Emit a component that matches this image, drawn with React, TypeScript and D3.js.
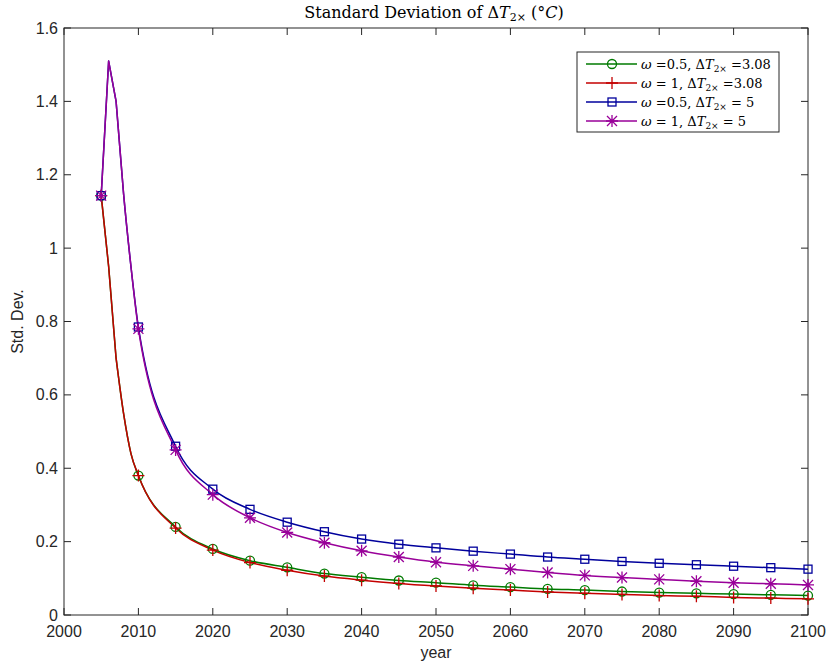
import React, { useEffect, useRef } from "react";
import * as d3 from "d3";

// years of the lines (yearly at the start, then every 5 years)
const lineYears = [2005, 2006, 2007, 2008, 2009, 2010, 2015, 2020, 2025, 2030, 2035, 2040, 2045, 2050, 2055, 2060, 2065, 2070, 2075, 2080, 2085, 2090, 2095, 2100];

const green = [1.143, 0.95, 0.70, 0.55, 0.44, 0.38, 0.24, 0.18, 0.148, 0.13, 0.113, 0.103, 0.094, 0.088, 0.081, 0.076, 0.071, 0.068, 0.064, 0.061, 0.059, 0.057, 0.055, 0.053];
const red = [1.143, 0.95, 0.70, 0.55, 0.44, 0.38, 0.237, 0.177, 0.143, 0.122, 0.106, 0.095, 0.086, 0.079, 0.073, 0.068, 0.063, 0.059, 0.056, 0.053, 0.051, 0.048, 0.046, 0.044];
const blue = [1.143, 1.51, 1.40, 1.15, 0.95, 0.785, 0.46, 0.343, 0.288, 0.253, 0.227, 0.207, 0.193, 0.183, 0.174, 0.166, 0.158, 0.152, 0.146, 0.141, 0.137, 0.133, 0.129, 0.125];
const purple = [1.143, 1.51, 1.40, 1.15, 0.95, 0.78, 0.45, 0.328, 0.265, 0.225, 0.197, 0.175, 0.158, 0.144, 0.134, 0.125, 0.116, 0.108, 0.102, 0.097, 0.092, 0.088, 0.085, 0.082];

const xTicks = [2000, 2010, 2020, 2030, 2040, 2050, 2060, 2070, 2080, 2090, 2100];
const yTicks = [0, 0.2, 0.4, 0.6, 0.8, 1, 1.2, 1.4, 1.6];

const seriesNames = ["green", "red", "blue", "purple"];
const seriesValues = [green, red, blue, purple];
const seriesColors = ["#007a00", "#c40000", "#00009c", "#990099"];
const seriesMarkers = ["circle", "plus", "square", "star"];
const legendOmega = ["=0.5,", "= 1,", "=0.5,", "= 1,"];
const legendDT = ["=3.08", "=3.08", "= 5", "= 5"];

function drawMarker(g: any, type: string, x: number, y: number, color: string) {
  const s = 5;
  if (type === "circle") {
    g.append("circle").attr("cx", x).attr("cy", y).attr("r", 4.5)
      .attr("fill", "none").attr("stroke", color).attr("stroke-width", 1.3);
  } else if (type === "square") {
    g.append("rect").attr("x", x - 4).attr("y", y - 4).attr("width", 8).attr("height", 8)
      .attr("fill", "none").attr("stroke", color).attr("stroke-width", 1.3);
  } else {
    const p = d3.path();
    p.moveTo(x - s - 1, y); p.lineTo(x + s + 1, y);
    p.moveTo(x, y - s - 1); p.lineTo(x, y + s + 1);
    if (type === "star") {
      p.moveTo(x - s, y - s); p.lineTo(x + s, y + s);
      p.moveTo(x - s, y + s); p.lineTo(x + s, y - s);
    }
    g.append("path").attr("d", p.toString()).attr("stroke", color).attr("stroke-width", 1.3).attr("fill", "none");
  }
}

export default function App() {
  const ref = useRef<SVGSVGElement>(null);

  useEffect(() => {
    const svg = d3.select(ref.current);
    svg.selectAll("*").remove();

    const left = 64, right = 808, top = 28, bottom = 615;
    const x = d3.scaleLinear().domain([2000, 2100]).range([left, right]);
    const y = d3.scaleLinear().domain([0, 1.6]).range([bottom, top]);
    const axisColor = "#262626";
    const tickFont = "'Liberation Sans', Arial, sans-serif";

    const axes = svg.append("g");
    // box
    axes.append("rect").attr("x", left).attr("y", top).attr("width", right - left).attr("height", bottom - top)
      .attr("fill", "none").attr("stroke", axisColor).attr("stroke-width", 1);

    const tl = 7;
    xTicks.forEach(t => {
      axes.append("line").attr("x1", x(t)).attr("x2", x(t)).attr("y1", bottom).attr("y2", bottom - tl).attr("stroke", axisColor);
      axes.append("line").attr("x1", x(t)).attr("x2", x(t)).attr("y1", top).attr("y2", top + tl).attr("stroke", axisColor);
      axes.append("text").attr("x", x(t)).attr("y", bottom + 22).attr("text-anchor", "middle")
        .attr("font-family", tickFont).attr("font-size", 16).attr("fill", axisColor).text(String(t));
    });
    yTicks.forEach(t => {
      axes.append("line").attr("x1", left).attr("x2", left + tl).attr("y1", y(t)).attr("y2", y(t)).attr("stroke", axisColor);
      axes.append("line").attr("x1", right).attr("x2", right - tl).attr("y1", y(t)).attr("y2", y(t)).attr("stroke", axisColor);
      axes.append("text").attr("x", left - 6).attr("y", y(t) + 5.5).attr("text-anchor", "end")
        .attr("font-family", tickFont).attr("font-size", 16).attr("fill", axisColor).text(String(t));
    });

    axes.append("text").attr("x", (left + right) / 2).attr("y", 658).attr("text-anchor", "middle")
      .attr("font-family", tickFont).attr("font-size", 16).attr("fill", axisColor).text("year");
    axes.append("text").attr("transform", `translate(23,${(top + bottom) / 2}) rotate(-90)`).attr("text-anchor", "middle")
      .attr("font-family", tickFont).attr("font-size", 16).attr("fill", axisColor).text("Std. Dev.");

    // title
    const serif = "'DejaVu Serif', 'Liberation Serif', serif";
    const title = svg.append("text").attr("x", 434).attr("y", 18).attr("text-anchor", "middle")
      .attr("font-family", serif).attr("font-size", 16).attr("fill", "#000");
    title.append("tspan").text("Standard Deviation of Δ");
    title.append("tspan").attr("font-style", "italic").text("T");
    title.append("tspan").attr("font-size", 11).attr("dy", 3).text("2×");
    title.append("tspan").attr("dy", -3).text(" (°");
    title.append("tspan").attr("font-style", "italic").text("C");
    title.append("tspan").text(")");

    // series: sharp yearly segments around the peak, smooth afterwards
    const split = lineYears.indexOf(2007);
    const lineA = d3.line<number>()
      .x((d, i) => x(lineYears[i]))
      .y(d => y(d));
    const lineB = d3.line<number>()
      .x((d, i) => x(lineYears[i + split]))
      .y(d => y(d))
      .curve(d3.curveMonotoneX);

    const plot = svg.append("g");
    seriesValues.forEach((vals, k) => {
      const d = lineA(vals.slice(0, split + 1)) + lineB(vals.slice(split))!.replace(/^M/, "L");
      plot.append("path").attr("d", d).attr("fill", "none")
        .attr("stroke", seriesColors[k]).attr("stroke-width", 1.5).attr("stroke-linejoin", "round");
    });
    seriesValues.forEach((vals, k) => {
      const mg = plot.append("g");
      vals.forEach((v, i) => {
        if (lineYears[i] % 5 === 0) drawMarker(mg, seriesMarkers[k], x(lineYears[i]), y(v), seriesColors[k]);
      });
    });

    // legend
    const lg = svg.append("g");
    lg.append("rect").attr("x", 577).attr("y", 52).attr("width", 202).attr("height", 80)
      .attr("fill", "#fff").attr("stroke", axisColor).attr("stroke-width", 1);
    seriesNames.forEach((name, k) => {
      const ry = 64 + k * 19;
      lg.append("line").attr("x1", 586).attr("x2", 637).attr("y1", ry).attr("y2", ry)
        .attr("stroke", seriesColors[k]).attr("stroke-width", 1.5);
      drawMarker(lg, seriesMarkers[k], 612, ry, seriesColors[k]);
      const t = lg.append("text").attr("x", 641).attr("y", ry + 4.5)
        .attr("font-family", serif).attr("font-size", 13).attr("fill", "#000");
      t.append("tspan").attr("font-style", "italic").text("ω");
      t.append("tspan").text(" " + legendOmega[k] + " Δ");
      t.append("tspan").attr("font-style", "italic").text("T");
      t.append("tspan").attr("font-size", 9).attr("dy", 3).text("2×");
      t.append("tspan").attr("dy", -3).text(" " + legendDT[k]);
    });
  }, []);

  return (
    <svg ref={ref} width={828} height={664} style={{ position: "absolute", left: 0, top: 0, background: "#fff" }} />
  );
}
